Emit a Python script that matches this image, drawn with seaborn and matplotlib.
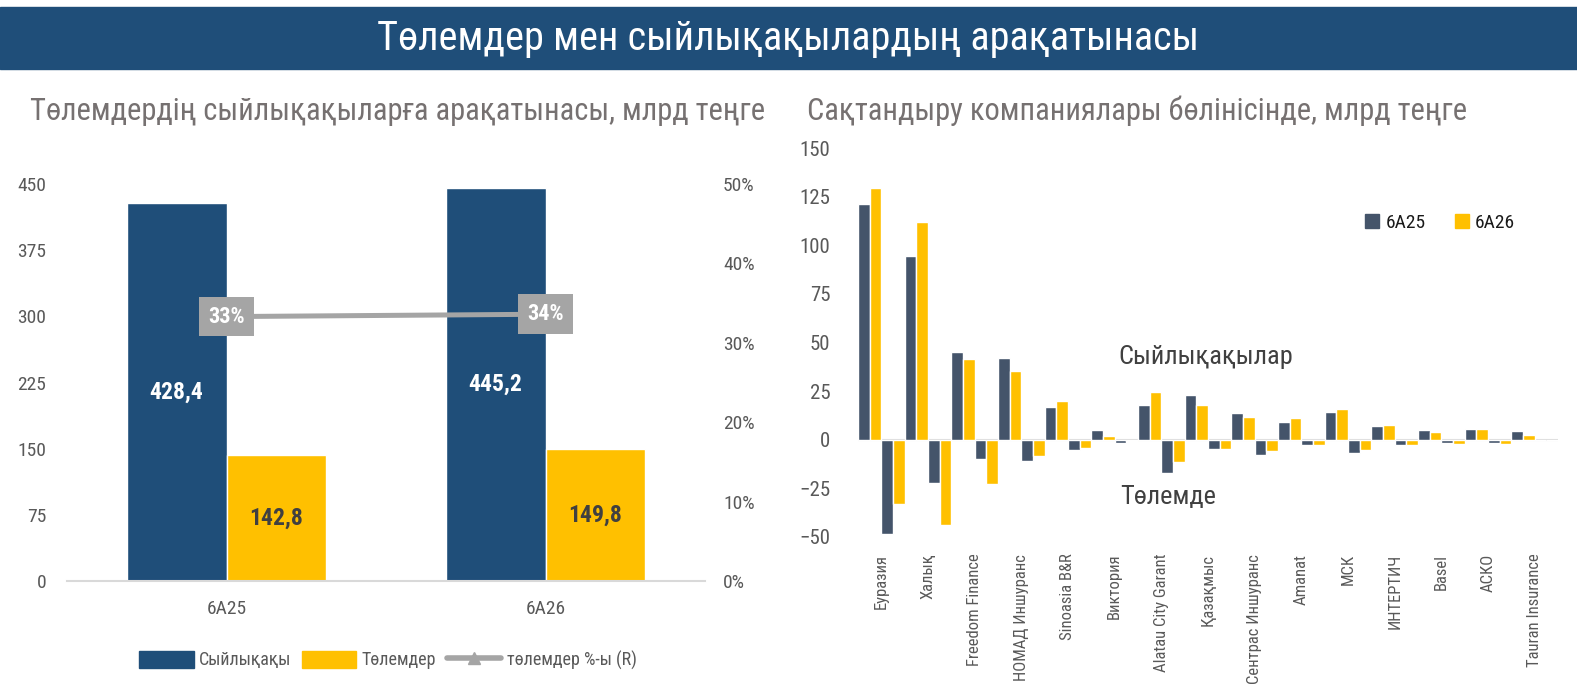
import numpy as np
import pandas as pd
import matplotlib
matplotlib.use("Agg")
import matplotlib.pyplot as plt
import seaborn as sns
from matplotlib import font_manager
from matplotlib.patches import Patch, Rectangle
from matplotlib.lines import Line2D

# ----------------------------
# Data
# ----------------------------

periods = ["6A25", "6A26"]
premiums = [428.4, 445.2]
payments = [142.8, 149.8]
ratio = [0.333, 0.336]
ratio_labels = ["33%", "34%"]

companies = [
    "Еуразия", "Халық", "Freedom Finance", "НОМАД Иншуранс", "Sinoasia B&R",
    "Виктория", "Alatau City Garant", "Қазақмыс", "Сентрас Иншуранс", "Amanat",
    "МСК", "ИНТЕРТИЧ", "Basel", "АСКО", "Tauran Insurance",
]
prem_6a25 = [121.0, 94.5, 45.0, 42.0, 17.0, 5.0, 17.7, 22.8, 13.6, 9.0, 14.5, 7.2, 4.8, 5.6, 4.4]
prem_6a26 = [129.5, 112.0, 41.4, 35.4, 20.0, 2.0, 24.4, 17.9, 11.6, 11.2, 15.8, 7.7, 3.9, 5.5, 2.6]
pay_6a25 = [-48.5, -22.0, -10.0, -10.7, -5.5, -1.7, -17.0, -4.8, -7.8, -2.7, -7.0, -2.9, -1.9, -1.7, 0.0]
pay_6a26 = [-33.0, -44.0, -23.0, -8.5, -4.0, -0.8, -11.6, -4.8, -6.0, -2.9, -5.1, -2.9, -2.2, -2.2, 0.0]

# ----------------------------
# Style
# ----------------------------

BLUE = "#1F4E79"
YELLOW = "#FFC000"
SLATE = "#44546A"
GRAY = "#A5A5A5"
TICK = "#595959"
SUB = "#767171"

sns.set_theme(style="white")
available = {f.name for f in font_manager.fontManager.ttflist}
main_font = "DejaVu Sans"
for cand in ["Roboto Condensed", "Liberation Sans Narrow", "Roboto", "Noto Sans"]:
    if cand in available:
        main_font = cand
        break
plt.rcParams["font.family"] = [main_font, "DejaVu Sans"]

W, H = 1577, 699
fig = plt.figure(figsize=(W / 100, H / 100), dpi=100)

# banner
fig.add_artist(Rectangle((0, 1 - 69 / H), 1, 62 / H, transform=fig.transFigure,
                         color=BLUE, zorder=0))
fig.text(0.5, 1 - 39 / H, "Төлемдер мен сыйлықақылардың арақатынасы",
         ha="center", va="center", color="white", fontsize=29)

fig.text(30 / W, 1 - 111 / H, "Төлемдердің сыйлықақыларға арақатынасы, млрд теңге",
         ha="left", va="center", color=SUB, fontsize=22)
fig.text(807 / W, 1 - 111 / H, "Сақтандыру компаниялары бөлінісінде, млрд теңге",
         ha="left", va="center", color=SUB, fontsize=22)

# ----------------------------
# Left chart
# ----------------------------

ax1 = fig.add_axes([67 / W, 1 - 581 / H, 638 / W, 397 / H])

df_left = pd.DataFrame({
    "period": periods * 2,
    "kind": ["Сыйлықақы"] * len(periods) + ["Төлемдер"] * len(periods),
    "value": premiums + payments,
})

sns.barplot(data=df_left, x="period", y="value", hue="kind",
            palette=[BLUE, YELLOW], width=0.625, saturation=1,
            legend=False, ax=ax1)

label_colors = ["white", "#404040"]
for cont, col in zip(ax1.containers, label_colors):
    labs = [f"{b.get_height():.1f}".replace(".", ",") for b in cont]
    ax1.bar_label(cont, labels=labs, label_type="center", color=col,
                  fontweight="bold", fontsize=17)

ax1.set_xlim(-0.5, 1.5)
ax1.set_ylim(0, 450)
ax1.set_yticks(np.arange(0, 451, 75))
ax1.set_xlabel("")
ax1.set_ylabel("")
ax1.tick_params(axis="both", length=0, colors=TICK, labelsize=14)
ax1.tick_params(axis="y", pad=15)
ax1.tick_params(axis="x", pad=14)
for s in ["top", "left", "right"]:
    ax1.spines[s].set_visible(False)
ax1.spines["bottom"].set_color("#D9D9D9")
ax1.spines["bottom"].set_linewidth(1.5)

ax2 = ax1.twinx()
sns.lineplot(x=np.arange(len(periods)), y=ratio, color=GRAY, linewidth=3.6,
             ax=ax2, legend=False)
for i, (r, t) in enumerate(zip(ratio, ratio_labels)):
    ax2.text(i, r, t, ha="center", va="center", color="white",
             fontweight="bold", fontsize=16,
             bbox=dict(boxstyle="square,pad=0.4", fc=GRAY, ec="none"))
ax2.set_ylim(0, 0.5)
ax2.set_yticks(np.arange(0, 0.51, 0.1))
ax2.set_yticklabels([f"{int(round(v * 100))}%" for v in np.arange(0, 0.51, 0.1)])
ax2.tick_params(axis="y", length=0, colors=TICK, labelsize=14, pad=13)
for s in ax2.spines.values():
    s.set_visible(False)

fig.legend(
    handles=[Patch(color=BLUE), Patch(color=YELLOW),
             Line2D([], [], color=GRAY, lw=4, marker="^", markersize=9)],
    labels=["Сыйлықақы", "Төлемдер", "төлемдер %-ы (R)"],
    loc="center", bbox_to_anchor=(388 / W, 1 - 660 / H), ncol=3,
    frameon=False, fontsize=13, handlelength=3.0, handleheight=1.1,
    columnspacing=0.6, handletextpad=0.3, labelcolor=TICK,
)

# ----------------------------
# Right chart
# ----------------------------

ax3 = fig.add_axes([858 / W, 1 - 537 / H, 700 / W, 389 / H])

series = ["prem25", "prem26", "pay25", "pay26"]
df_right = pd.DataFrame({
    "company": companies * 4,
    "series": np.repeat(series, len(companies)),
    "value": prem_6a25 + prem_6a26 + pay_6a25 + pay_6a26,
})

sns.barplot(data=df_right, x="company", y="value", hue="series",
            hue_order=series, palette=[SLATE, YELLOW, SLATE, YELLOW],
            width=1.0, saturation=1, legend=False, ax=ax3)

ax3.axhline(0, color="#D9D9D9", lw=1.5, zorder=0)
ax3.set_xlim(-0.5, len(companies) - 0.5)
ax3.set_ylim(-50, 150)
ax3.set_yticks(np.arange(-50, 151, 25))
ax3.set_xlabel("")
ax3.set_ylabel("")
ax3.tick_params(axis="y", length=0, colors=TICK, labelsize=15, pad=20)
ax3.tick_params(axis="x", length=0, colors=TICK, labelsize=12, pad=12,
                labelrotation=90)
for s in ax3.spines.values():
    s.set_visible(False)

fig.text(1118 / W, 1 - 357 / H, "Сыйлықақылар", ha="left", va="center",
         color="#404040", fontsize=19)
fig.text(1120 / W, 1 - 497 / H, "Төлемде", ha="left", va="center",
         color="#404040", fontsize=19)

fig.legend(
    handles=[Patch(color=SLATE), Patch(color=YELLOW)],
    labels=["6A25", "6A26"],
    loc="center", bbox_to_anchor=(1440 / W, 1 - 223 / H), ncol=2,
    frameon=False, fontsize=14, handlelength=0.75, handleheight=0.75,
    columnspacing=1.5, handletextpad=0.3, labelcolor="#1a1a1a",
)

fig.savefig("out.png", dpi=100)
